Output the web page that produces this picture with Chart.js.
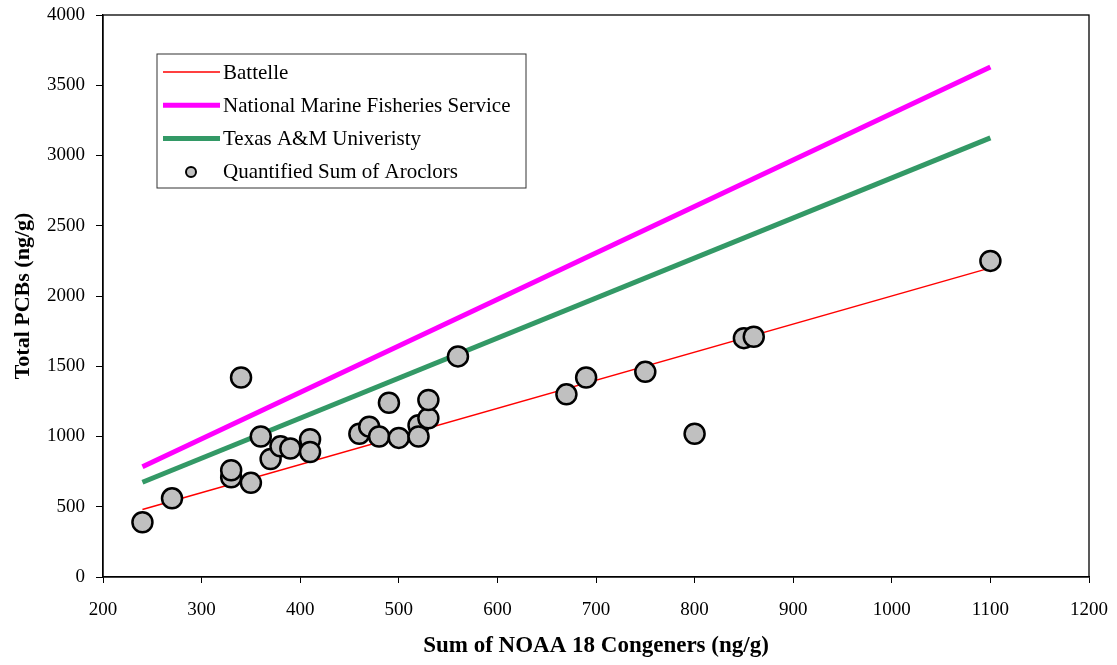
<!DOCTYPE html>
<html>
  <head>
    <title>Total PCBs vs NOAA 18 congeners</title>
    <style>
      body { margin: 0; background: #fff; }
      #wrap { width: 1117px; height: 665px; position: relative; }
    </style>
  </head>
  <body>
    <div id="wrap">
      <canvas id="chart1"></canvas>
    </div>
    <script src="https://cdn.jsdelivr.net/npm/chart.js"></script>
    <script>
// measured points (x = sum of NOAA 18 congeners, y = quantified sum of aroclors)
const congeners = [240, 270, 330, 330, 340, 350, 360, 370, 380, 390, 410, 410, 460, 470, 480,
                   490, 500, 520, 520, 530, 530, 560, 670, 690, 750, 800, 850, 860, 1100];
const aroclors  = [390, 560, 710, 760, 1420, 670, 1000, 840, 930, 915, 980, 890, 1020, 1070, 1000,
                   1240, 990, 1080, 1000, 1130, 1260, 1570, 1300, 1420, 1460, 1020, 1700, 1710, 2250];

// regression lines, start and end
const lineX    = [240, 1100];
const battelle = [480, 2200];
const nmfs     = [785, 3630];
const tamu     = [674, 3125];

const labels = ['Battelle', 'National Marine Fisheries Service', 'Texas A&M Univeristy', 'Quantified Sum of Aroclors'];
const xTicksMin = 200, xTicksMax = 1200, yMax = 4000;

const serif = '"Liberation Serif", "Times New Roman", serif';

function pts(xs, ys) { return xs.map((x, i) => ({x: x, y: ys[i]})); }

// plot border box
const boxPlugin = {
  id: 'box',
  afterDatasetsDraw(chart) {
    const a = chart.chartArea, c = chart.ctx;
    c.save();
    c.strokeStyle = '#000';
    c.lineWidth = 1.3;
    c.strokeRect(a.left, a.top, a.right - a.left, a.bottom - a.top);
    c.restore();
  }
};

// legend inside the plot, like the original
const boxLegend = {
  id: 'boxLegend',
  afterDraw(chart) {
    const c = chart.ctx, a = chart.chartArea;
    const x0 = a.left + 54, y0 = a.top + 39, w = 369, h = 134;
    c.save();
    c.fillStyle = '#fff';
    c.fillRect(x0, y0, w, h);
    c.strokeStyle = '#333';
    c.lineWidth = 1;
    c.strokeRect(x0, y0, w, h);
    c.font = '21px ' + serif;
    c.textBaseline = 'middle';
    c.fillStyle = '#000';
    chart.data.datasets.forEach((ds, i) => {
      const y = y0 + 18 + i * 33.3;
      if (ds.showLine) {
        c.strokeStyle = ds.borderColor;
        c.lineWidth = ds.borderWidth;
        c.beginPath();
        c.moveTo(x0 + 6, y);
        c.lineTo(x0 + 63, y);
        c.stroke();
      } else {
        c.beginPath();
        c.arc(x0 + 34, y, 5, 0, Math.PI * 2);
        c.fillStyle = ds.backgroundColor;
        c.fill();
        c.strokeStyle = '#000';
        c.lineWidth = 2;
        c.stroke();
        c.fillStyle = '#000';
      }
      c.fillText(ds.label, x0 + 66, y + 1);
    });
    c.restore();
  }
};

const ctx = document.getElementById('chart1');
chart1 = new Chart(ctx, {
  type: 'scatter',
  data: {
    datasets: [{
      label: labels[0],
      data: pts(lineX, battelle),
      showLine: true,
      borderColor: '#ff0000',
      borderWidth: 1.5,
      pointRadius: 0,
      order: 2
    }, {
      label: labels[1],
      data: pts(lineX, nmfs),
      showLine: true,
      borderColor: '#ff00ff',
      borderWidth: 5,
      pointRadius: 0,
      order: 2
    }, {
      label: labels[2],
      data: pts(lineX, tamu),
      showLine: true,
      borderColor: '#339966',
      borderWidth: 5,
      pointRadius: 0,
      order: 2
    }, {
      label: labels[3],
      data: pts(congeners, aroclors),
      backgroundColor: '#c0c0c0',
      borderColor: '#000',
      borderWidth: 2.5,
      pointRadius: 10,
      pointHoverRadius: 10,
      order: 1
    }]
  },
  options: {
    responsive: true,
    maintainAspectRatio: false,
    animation: false,
    events: [],
    layout: { padding: { top: 15, right: 28, left: 0, bottom: 0 } },
    scales: {
      x: {
        type: 'linear',
        min: xTicksMin,
        max: xTicksMax,
        afterFit: s => { s.height = 88; s.paddingLeft = 0; s.paddingRight = 0; },
        ticks: {
          stepSize: 100, color: '#000', padding: 16,
          font: { family: serif, size: 19 },
          callback: v => String(v)
        },
        grid: { drawOnChartArea: false, tickLength: 6, color: '#000' },
        border: { color: '#000', width: 1.3 },
        title: {
          display: true,
          text: 'Sum of NOAA 18 Congeners (ng/g)',
          color: '#000',
          font: { family: serif, size: 23, weight: 'bold' },
          padding: { top: 0, bottom: 5 }
        }
      },
      y: {
        min: 0,
        max: yMax,
        afterFit: s => { s.width = 103; s.paddingTop = 0; s.paddingBottom = 0; },
        ticks: {
          stepSize: 500, color: '#000', padding: 11,
          font: { family: serif, size: 19 },
          callback: v => String(v)
        },
        grid: { drawOnChartArea: false, tickLength: 7, color: '#000' },
        border: { color: '#000', width: 1.3 },
        title: {
          display: true,
          text: 'Total PCBs (ng/g)',
          color: '#000',
          font: { family: serif, size: 22, weight: 'bold' },
          padding: { top: 10, bottom: 0 }
        }
      }
    },
    plugins: {
      legend: { display: false },
      tooltip: { enabled: false }
    }
  },
  plugins: [boxPlugin, boxLegend]
});
    </script>
  </body>
</html>
